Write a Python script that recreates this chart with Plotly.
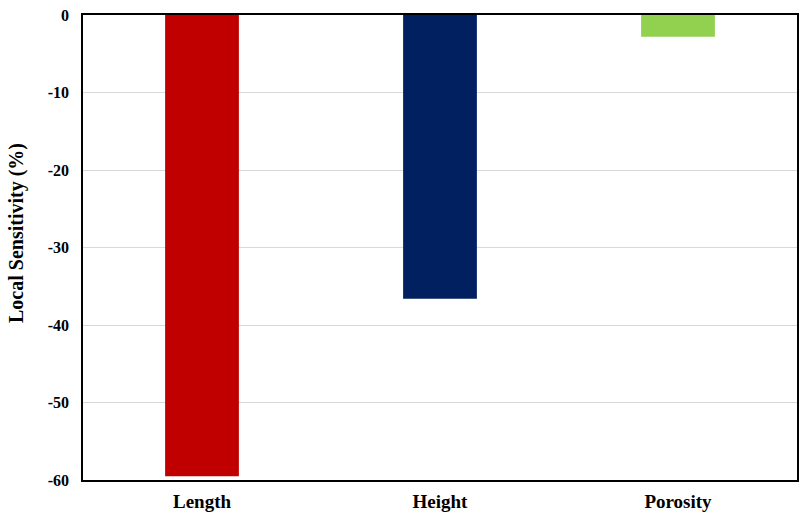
import plotly.graph_objects as go

categories = ["Length", "Height", "Porosity"]
values = [-59.5, -36.6, -2.8]
colors = ["#C00000", "#002060", "#92D050"]
y_ticks = [0, -10, -20, -30, -40, -50, -60]
y_title = "Local Sensitivity (%)"

fig = go.Figure(go.Bar(x=categories, y=values, marker=dict(color=colors, line=dict(width=0)),
                       width=0.31))

font_family = "Liberation Serif, Times New Roman, serif"
fig.update_layout(
    width=812, height=525,
    margin=dict(l=83, r=15, t=15, b=45, autoexpand=False),
    paper_bgcolor="white", plot_bgcolor="white",
    showlegend=False,
    font=dict(family=font_family, color="black"),
    xaxis=dict(showline=True, linecolor="black", linewidth=1.5, mirror=True, automargin=False,
               ticks="outside", ticklen=3, tickcolor="rgba(0,0,0,0)",
               tickfont=dict(size=19, family=font_family, weight="bold"),
               showgrid=False),
    yaxis=dict(range=[-60, 0], tickvals=y_ticks, ticktext=[str(v) for v in y_ticks],
               showline=True, linecolor="black", linewidth=1.5, mirror=True, automargin=False,
               showgrid=True, gridcolor="#D9D9D9", gridwidth=1, zeroline=False,
               ticks="outside", ticklen=9, tickcolor="rgba(0,0,0,0)",
               tickfont=dict(size=16, family=font_family, weight="bold")),
    annotations=[dict(text=y_title, xref="paper", yref="paper", x=-0.094, y=0.531,
                      xanchor="center", yanchor="middle", textangle=-90, showarrow=False,
                      font=dict(size=20, family=font_family, weight="bold", color="black"))],
)
fig.write_html("out.html", config={"displayModeBar": False},
               post_script="document.body.style.margin='0';document.body.style.overflow='hidden';")
